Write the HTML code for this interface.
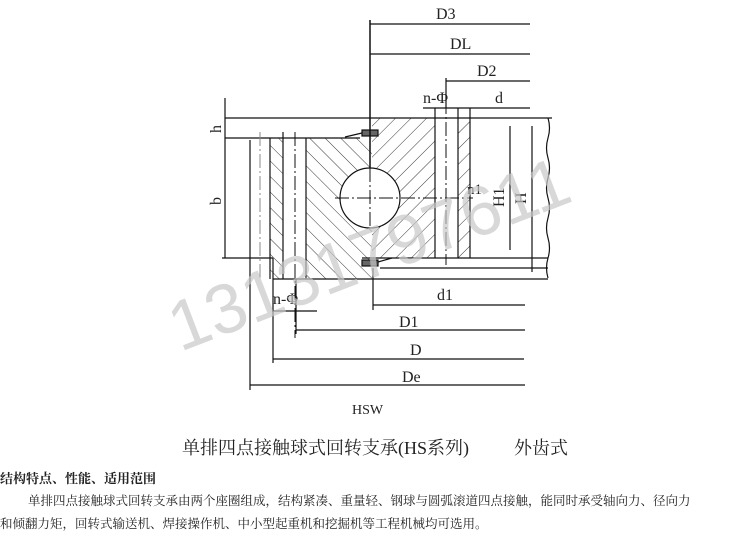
<!DOCTYPE html>
<html><head><meta charset="utf-8"><style>
html,body{margin:0;padding:0;background:#fff;width:750px;height:536px;overflow:hidden}
.t{position:absolute;font-family:"Liberation Serif","Noto Serif CJK SC",serif;color:#222;white-space:nowrap}
</style></head><body>
<svg width="750" height="536" style="position:absolute;left:0;top:0" font-family="Liberation Sans, sans-serif">
<defs>
<pattern id="hA" patternUnits="userSpaceOnUse" width="11" height="11" patternTransform="rotate(45)"><line x1="0" y1="0" x2="0" y2="11" stroke="#222" stroke-width="0.9"/></pattern>
<pattern id="hB" patternUnits="userSpaceOnUse" width="11" height="11" patternTransform="rotate(-45)"><line x1="0" y1="0" x2="0" y2="11" stroke="#222" stroke-width="0.9"/></pattern>
</defs>
<g stroke="#111" stroke-width="1.2" fill="none">
<rect x="270" y="138" width="13" height="141" fill="url(#hB)" stroke="none"/>
<path d="M306 138 H372 V279 H306 Z" fill="url(#hB)" stroke="none"/>
<path d="M372 118 H435 V258 H372 Z" fill="url(#hA)" stroke="none"/>
<rect x="458" y="118" width="12" height="140" fill="url(#hA)" stroke="none"/>
<circle cx="370" cy="198" r="30" fill="#fff" stroke="#111"/>
<line x1="225" y1="118" x2="552" y2="118"/>
<line x1="225" y1="138" x2="360" y2="138"/>
<line x1="250" y1="140" x2="250" y2="390"/>
<line x1="222" y1="258" x2="273" y2="258"/>
<line x1="273" y1="258" x2="273" y2="363"/>
<line x1="273" y1="279" x2="548" y2="279"/>
<line x1="362" y1="258" x2="548" y2="258"/>
<line x1="380" y1="268" x2="548" y2="268"/>
<line x1="270" y1="138" x2="270" y2="279"/>
<line x1="283" y1="132" x2="283" y2="279"/>
<line x1="306" y1="138" x2="306" y2="279"/>
<line x1="435" y1="108" x2="435" y2="258"/>
<line x1="458" y1="108" x2="458" y2="258"/>
<line x1="470" y1="108" x2="470" y2="258"/>
<line x1="510" y1="126" x2="510" y2="250"/>
<line x1="532" y1="126" x2="532" y2="272"/>
<path d="M548 118 q3 10 0 20 q-3 10 0 20 q3 10 0 20 q-3 10 0 20 q3 10 0 20 q-3 10 0 20 q3 10 0 20 q-3 10 0 20" />
<g stroke-dasharray="14,3,2,3" stroke-width="1">
<line x1="295" y1="132" x2="295" y2="338"/>
<line x1="446" y1="100" x2="446" y2="265"/>
<line x1="335" y1="198" x2="473" y2="198"/>
<line x1="370" y1="168" x2="370" y2="228"/>
<line x1="260" y1="132" x2="260" y2="279" stroke="#888"/>
</g>
<rect x="362" y="130" width="16" height="6" fill="#666"/>
<rect x="362" y="260" width="16" height="6" fill="#666"/>
<line x1="345" y1="137" x2="362" y2="133"/>
<line x1="378" y1="262" x2="392" y2="258"/>
<line x1="370" y1="20" x2="370" y2="168" stroke-width="1.5"/>
<line x1="370" y1="24" x2="530" y2="24"/>
<line x1="370" y1="54" x2="530" y2="54"/>
<line x1="446" y1="78" x2="446" y2="108"/>
<line x1="446" y1="81" x2="530" y2="81"/>
<line x1="423" y1="108" x2="530" y2="108"/>
<line x1="225" y1="98" x2="225" y2="258"/>
<line x1="373" y1="268" x2="373" y2="310"/>
<line x1="373" y1="305" x2="525" y2="305"/>
<line x1="272" y1="311" x2="317" y2="311"/>
<line x1="296" y1="279" x2="296" y2="334"/>
<line x1="296" y1="330" x2="525" y2="330"/>
<line x1="273" y1="359" x2="524" y2="359"/>
<line x1="250" y1="385" x2="525" y2="385"/>
</g>
<g fill="#222" font-family="Liberation Serif, serif" font-size="16">
<text x="436" y="19">D3</text>
<text x="450" y="49">DL</text>
<text x="477" y="76">D2</text>
<text x="423" y="103">n-Φ</text>
<text x="495" y="103">d</text>
<text x="467" y="194" font-size="15">n1</text>
<text x="437" y="300">d1</text>
<text x="399" y="327">D1</text>
<text x="410" y="355">D</text>
<text x="402" y="382">De</text>
<text x="273" y="304">n-Φ</text>
<text x="352" y="414" font-size="14">HSW</text>
<text transform="translate(221,133) rotate(-90)" >h</text>
<text transform="translate(221,205) rotate(-90)">b</text>
<text transform="translate(504,207) rotate(-90)">H1</text>
<text transform="translate(526,204) rotate(-90)">H</text>
</g>
<text transform="translate(180,352) rotate(-21)" font-family="Liberation Sans, sans-serif" font-size="70" fill="#c8c8c8" fill-opacity="0.7">13131797611</text>
</svg>
<div class="t" style="left:182px;top:434px;font-size:18px">单排四点接触球式回转支承(HS系列)</div>
<div class="t" style="left:514px;top:434px;font-size:18px">外齿式</div>
<div class="t" style="left:0px;top:468px;font-size:13px;font-weight:bold">结构特点、性能、适用范围</div>
<div class="t" style="left:28px;top:491px;font-size:12.5px">单排四点接触球式回转支承由两个座圈组成，结构紧凑、重量轻、钢球与圆弧滚道四点接触，能同时承受轴向力、径向力</div>
<div class="t" style="left:0px;top:514px;font-size:12.5px">和倾翻力矩，回转式输送机、焊接操作机、中小型起重机和挖掘机等工程机械均可选用。</div>
</body></html>
